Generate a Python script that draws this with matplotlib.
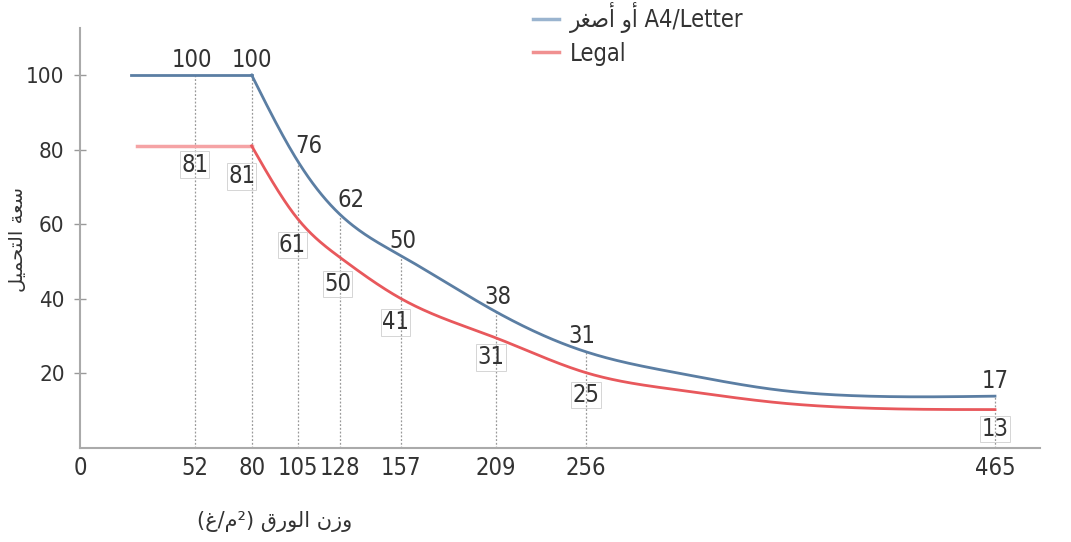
import numpy as np
import matplotlib
matplotlib.use("Agg")
import matplotlib.pyplot as plt

# paper weight (g/m2) and load capacity
weights = [52, 80, 105, 128, 157, 209, 256, 465]
a4_labels = [100, 100, 76, 62, 50, 38, 31, 17]
legal_labels = [81, 81, 61, 50, 41, 31, 25, 13]

a4_start = 23
a4_curve_w = [80, 105, 128, 157, 209, 256, 304, 355, 394, 465]
a4_curve_v = [100, 77, 62.5, 51.5, 36.5, 25.8, 20, 15.5, 14, 13.9]
legal_start = 26
legal_curve_w = [80, 105, 128, 157, 209, 256, 304, 355, 381, 424, 465]
legal_curve_v = [81, 61.5, 51, 40, 29.5, 20.2, 15.5, 12.1, 11.1, 10.4, 10.3]

a4_name = "\ufeae\ufed0\ufebb\ufe83 \ufeed\ufe83 A4/Letter"
legal_name = "Legal"
xlabel = "(\ufecd/\ufee1\u00b2) \ufed5\ufead\ufeee\ufedf\ufe8d \ufee5\ufeaf\ufeed"
ylabel = "\ufede\ufef4\ufee4\ufea4\ufe98\ufedf\ufe8d \ufe94\ufecc\ufeb3"

# uneven x axis of the original chart
scale_w = [0, 52, 80, 105, 128, 157, 209, 256, 465, 700]
scale_px = [78, 193, 250, 296, 339, 400, 495, 585, 995, 1456]


def fwd(w):
    return np.interp(w, scale_w, scale_px)


def inv(p):
    return np.interp(p, scale_px, scale_w)


def spline(x, y, xs):
    # natural cubic spline
    x = np.asarray(x, float)
    y = np.asarray(y, float)
    n = len(x)
    h = np.diff(x)
    A = np.zeros((n, n))
    b = np.zeros(n)
    A[0, 0] = A[-1, -1] = 1
    for k in range(1, n - 1):
        A[k, k - 1] = h[k - 1]
        A[k, k] = 2 * (h[k - 1] + h[k])
        A[k, k + 1] = h[k]
        b[k] = 6 * ((y[k + 1] - y[k]) / h[k] - (y[k] - y[k - 1]) / h[k - 1])
    M = np.linalg.solve(A, b)
    i = np.clip(np.searchsorted(x, xs) - 1, 0, n - 2)
    t1 = x[i + 1] - xs
    t0 = xs - x[i]
    return (M[i] * t1**3 / (6 * h[i]) + M[i + 1] * t0**3 / (6 * h[i])
            + (y[i] / h[i] - M[i] * h[i] / 6) * t1
            + (y[i + 1] / h[i] - M[i + 1] * h[i] / 6) * t0)


def smooth(cw, cv):
    px = fwd(cw)
    dense = np.linspace(px[0], px[-1], 500)
    return inv(dense), spline(px, cv, dense)


plt.rcParams["font.family"] = ["Liberation Sans Narrow", "DejaVu Sans"]
plt.rcParams["font.stretch"] = "condensed"
text_c = "#333333"

fig = plt.figure(figsize=(10.71, 5.42), dpi=100)
ax = fig.add_axes([80 / 1071, 94 / 542, 960 / 1071, 420 / 542])
ax.set_xscale("function", functions=(fwd, inv))

blue = "#5b7ea3"
red = "#e8585c"

bx, by = smooth(a4_curve_w, a4_curve_v)
rx, ry = smooth(legal_curve_w, legal_curve_v)


def at(w, xs, ys, start_v):
    return np.interp(w, xs, ys) if w >= xs[0] else start_v


# dotted guides up to the upper curve
for w in weights:
    top = at(w, bx, by, a4_curve_v[0])
    ax.plot([w, w], [0, top], color="#999999", lw=0.9, ls=(0, (1.5, 1.5)), zorder=1)

ax.plot([a4_start, a4_curve_w[0]], [a4_curve_v[0]] * 2, color=blue, lw=2, zorder=3)
ax.plot(bx, by, color=blue, lw=2, zorder=3)
ax.plot([legal_start, legal_curve_w[0]], [legal_curve_v[0]] * 2, color="#f5a3a5", lw=2.5, zorder=3)
ax.plot(rx, ry, color=red, lw=2, zorder=3)

blue_dx = [-3, 0, 11, 11, 2, 2, -4, 0]
red_dx = [0, -10, -5, -3, -6, -5, 0, 0]
red_dy = [-13.5, -22, -19, -19, -17, -14, -16, -14]
for w, lab, dx in zip(weights, a4_labels, blue_dx):
    ax.annotate(str(lab), (w, at(w, bx, by, a4_curve_v[0])), xytext=(dx / 1.389, 11),
                textcoords="offset points", ha="center", va="center",
                fontsize=17, color=text_c, zorder=4)
for w, lab, dx, dy in zip(weights, legal_labels, red_dx, red_dy):
    ax.annotate(str(lab), (w, at(w, rx, ry, legal_curve_v[0])), xytext=(dx / 1.389, dy),
                textcoords="offset points", ha="center", va="center",
                fontsize=17, color=text_c, zorder=4,
                bbox=dict(boxstyle="square,pad=0.05", fc="none", ec="#d5d5d5", lw=0.7))

ax.set_xlim(0, 488)
ax.set_ylim(0, 112.6)
ax.set_xticks([0] + weights)
ax.set_xticklabels(["0"] + [str(w) for w in weights])
ax.set_yticks([20, 40, 60, 80, 100])
ax.tick_params(axis="x", length=0, pad=6, labelsize=17, colors=text_c)
ax.tick_params(axis="y", direction="inout", length=8, width=1, color="#999999",
               pad=7, labelsize=16, labelcolor=text_c)

for s in ["top", "right"]:
    ax.spines[s].set_visible(False)
for s in ["left", "bottom"]:
    ax.spines[s].set_color("#aaaaaa")
    ax.spines[s].set_linewidth(1.5)

fig.text(275 / 1071, 1 - 521 / 542, xlabel, ha="center", va="center",
         fontsize=15, color=text_c, family="DejaVu Sans", fontstretch="normal")
fig.text(18 / 1071, 1 - 240 / 542, ylabel, ha="center", va="center", rotation=90,
         fontsize=14, color=text_c, family="DejaVu Sans", fontstretch="normal")

h1, = ax.plot([], [], color="#9ab4cf", lw=2.5)
h2, = ax.plot([], [], color="#f09090", lw=2.5)
fig.legend([h1, h2], [a4_name, legal_name], loc="upper left",
           bbox_to_anchor=(512 / 1071, 1.035), frameon=False,
           handlelength=1.1, handletextpad=0.45, labelspacing=0.35, labelcolor=text_c,
           prop={"family": ["Liberation Sans Narrow", "DejaVu Sans"], "size": 17,
                 "stretch": "condensed"})

fig.savefig("out.png", dpi=100)
